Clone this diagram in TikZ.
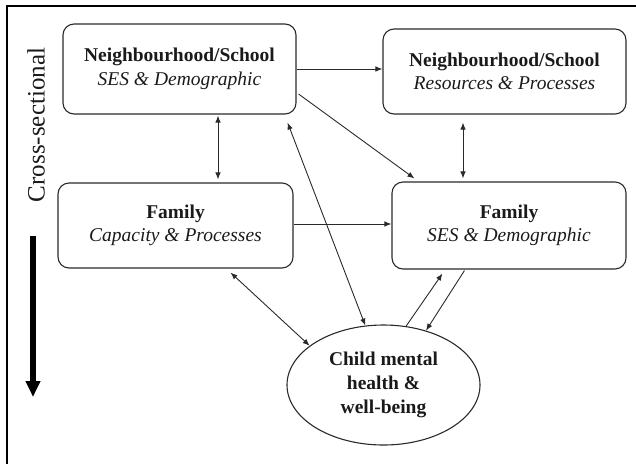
\documentclass[tikz,border=0pt]{standalone}
\usepackage{fontspec}
\setmainfont{Liberation Serif}
\usetikzlibrary{arrows.meta,shapes.geometric,calc}
\definecolor{linec}{HTML}{2A2A2A}
\definecolor{textc}{HTML}{1A1A1A}
\begin{document}
\begin{tikzpicture}[x=1pt,y=-1pt,
  box/.style={draw=linec, line width=1.1pt, rounded corners=11pt, inner sep=0pt,
    align=center, text=textc, font=\fontsize{19.5}{23.5}\selectfont},
  ell/.style={draw=linec, line width=1.1pt, ellipse, inner sep=0pt, align=center,
    text=textc, minimum width=193pt, minimum height=120pt,
    font=\bfseries\fontsize{19.5}{24}\selectfont},
  tip/.tip={Latex[length=7pt,width=5.5pt]},
  conn/.style={line width=0.9pt, draw=linec, -tip},
  both/.style={line width=0.9pt, draw=linec, tip-tip}]
\useasboundingbox (0,0) rectangle (636,464);
\draw[line width=2.5pt, draw=black] (7,464) -- (7,6) -- (636,6);

\node[box, minimum width=233pt, minimum height=90pt] (A) at (179.5,69)
  {\textbf{Neighbourhood/School}\\\textit{SES \& Demographic}};
\node[box, minimum width=243pt, minimum height=85pt] (B) at (504.5,71.5)
  {\textbf{Neighbourhood/School}\\\textit{Resources \& Processes}};
\node[box, minimum width=235pt, minimum height=85pt] (C) at (175.5,225.5)
  {\textbf{Family}\\\textit{Capacity \& Processes}};
\node[box, minimum width=234pt, minimum height=87pt] (D) at (509,225.5)
  {\textbf{Family}\\\textit{SES \& Demographic}};
\node[ell] (E) at (383.5,385) {Child mental\\health \&\\well-being};

\node[rotate=90, text=textc, font=\fontsize{25}{30}\selectfont] (cs) at (36,125) {Cross-sectional};
\coordinate (t0) at (33,236);
\coordinate (t1) at (33,397);
\draw[line width=5.5pt, -{Triangle[length=16pt,width=14pt]}] (t0) -- (t1);

% connectors
\draw[conn] (A.east |- 0,69) -- (B.west |- 0,69);
\draw[conn] ([xshift=2,yshift=-25]A.east) -- ([xshift=23,yshift=3]D.north west);
\draw[both, shorten <=1pt, shorten >=3pt] ([xshift=38.5]A.south) -- ([xshift=38.5]A.south |- C.north);
\draw[both, shorten <=8pt, shorten >=3pt] ([xshift=-41.5]B.south) -- ([xshift=-41.5]B.south |- D.north);
\draw[conn] (C.east |- 0,224) -- (D.west |- 0,224);
\draw[both] ([xshift=-63,yshift=-4]C.south east) -- (E.152);
\draw[both] ([xshift=-9,yshift=-8]A.south east) -- (E.107);
\draw[conn] (E.69) -- ([xshift=51,yshift=-4]D.south west);
\draw[conn] ([xshift=73,yshift=-1]D.south west) -- (E.52);
\end{tikzpicture}
\end{document}
